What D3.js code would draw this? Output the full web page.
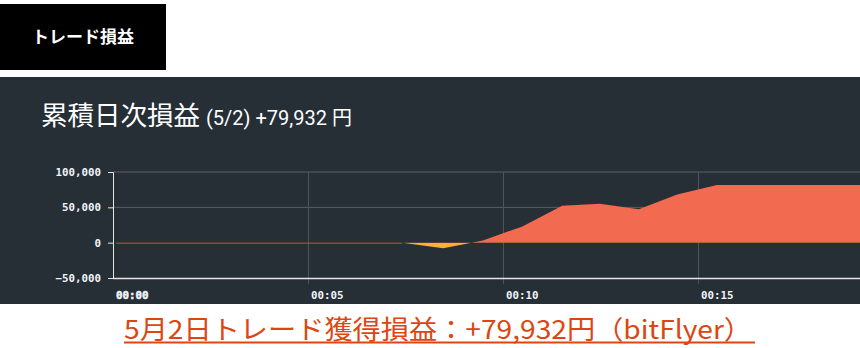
<!DOCTYPE html>
<html>
<head>
<meta charset="utf-8">
<script src="https://cdn.jsdelivr.net/npm/d3@7"></script>
<style>
body { margin: 0; background: #fff; }
svg { display: block; }
</style>
</head>
<body>
<script>
// cumulative P/L through the day, seconds since 00:00
var times = [5, 445, 508, 569, 629, 691, 749, 809, 868, 929, 1200];
var values = [0, 0, -7900, 3000, 22700, 52400, 55200, 47300, 68000, 81700, 81700];
var yTicks = [-50000, 0, 50000, 100000];
var xTicks = [0, 300, 600, 900];
var xTickLabels = ["00:00", "00:05", "00:10", "00:15"];

var data = times.map(function(t, i){ return {t: t, v: values[i]}; });

var W = 860, H = 348;
var svg = d3.select("body").append("svg").attr("width", W).attr("height", H);

// header tab
svg.append("rect").attr("x", 0).attr("y", 4).attr("width", 166).attr("height", 66).attr("fill", "#000");
svg.append("text").attr("x", 83).attr("y", 43).attr("text-anchor", "middle")
  .attr("font-family", "Noto Sans CJK JP").attr("font-weight", "bold").attr("font-size", 17)
  .attr("fill", "#fff").text("トレード損益");

// dark panel
svg.append("rect").attr("x", 0).attr("y", 77).attr("width", W).attr("height", 227).attr("fill", "#262e36");

var title = svg.append("text").attr("x", 41).attr("y", 125).attr("fill", "#fff");
title.append("tspan").attr("font-family", "Noto Sans CJK JP").attr("font-size", 26.5).text("累積日次損益");
title.append("tspan").attr("font-family", "Roboto").attr("font-size", 20).attr("dx", 6).text("(5/2) +79,932 ");
title.append("tspan").attr("font-family", "Noto Sans CJK JP").attr("font-size", 20).text("円");

var x = d3.scaleLinear().domain([0, 1200]).range([113, 113 + 195 * 4]);
var y = d3.scaleLinear().domain([-50000, 100000]).range([278, 172]);

// grid
svg.selectAll("line.hgrid").data([50000, 100000]).enter().append("line")
  .attr("class", "hgrid")
  .attr("x1", x(0)).attr("x2", W)
  .attr("y1", function(d){ return y(d); }).attr("y2", function(d){ return y(d); })
  .attr("stroke", "#5a6168").attr("stroke-width", 1);
svg.selectAll("line.vgrid").data(xTicks.slice(1)).enter().append("line")
  .attr("class", "vgrid")
  .attr("x1", function(d){ return Math.round(x(d)) + 0.5; }).attr("x2", function(d){ return Math.round(x(d)) + 0.5; })
  .attr("y1", y(100000)).attr("y2", y(-50000) + 6)
  .attr("stroke", "#4d545b").attr("stroke-width", 1);

// areas split at zero
var defs = svg.append("defs");
defs.append("clipPath").attr("id", "pos").append("rect")
  .attr("x", 0).attr("y", 0).attr("width", W).attr("height", y(0));
defs.append("clipPath").attr("id", "neg").append("rect")
  .attr("x", 0).attr("y", y(0)).attr("width", W).attr("height", H - y(0));

var area = d3.area()
  .x(function(d){ return x(d.t); })
  .y0(y(0))
  .y1(function(d){ return y(d.v); });

svg.append("path").datum(data).attr("d", area).attr("fill", "#f26a50").attr("clip-path", "url(#pos)");
svg.append("path").datum(data).attr("d", area).attr("fill", "#f8b133").attr("clip-path", "url(#neg)");
svg.append("line")
  .attr("x1", x(times[0])).attr("x2", x(times[1]))
  .attr("y1", y(0) + 0.5).attr("y2", y(0) + 0.5)
  .attr("stroke", "#c5533f").attr("stroke-width", 1);

// axes
var yAxis = svg.append("g").attr("transform", "translate(113,0)")
  .call(d3.axisLeft(y).tickValues(yTicks).tickFormat(d3.format(",")).tickSize(5).tickPadding(7));
yAxis.select(".domain").attr("stroke", "#e6e6e6");
yAxis.selectAll(".tick line").attr("stroke", "#e6e6e6");
yAxis.selectAll("text").attr("fill", "#f0f4f8")
  .attr("font-family", "DejaVu Sans Mono").attr("font-weight", "bold").attr("font-size", 10.8);

svg.append("line").attr("x1", 113).attr("x2", W).attr("y1", y(-50000) + 0.5).attr("y2", y(-50000) + 0.5)
  .attr("stroke", "#e6e6e6").attr("stroke-width", 1.5);

svg.selectAll("text.xlab").data(xTicks).enter().append("text")
  .attr("class", "xlab")
  .attr("x", function(d){ return x(d) + 3; })
  .attr("y", 299)
  .attr("fill", "#f0f4f8")
  .attr("stroke", function(d, i){ return i === 0 ? "#f0f4f8" : "none"; })
  .attr("stroke-width", 0.5)
  .attr("font-family", "DejaVu Sans Mono").attr("font-weight", "bold").attr("font-size", 10.8)
  .text(function(d, i){ return xTickLabels[i]; });

// caption link
svg.append("text").attr("x", 124).attr("y", 339)
  .attr("font-family", "Noto Sans CJK JP").attr("font-size", 26).attr("fill", "#dd4611")
  .attr("textLength", 628).attr("lengthAdjust", "spacingAndGlyphs")
  .text("5月2日トレード獲得損益：+79,932円（bitFlyer）");
svg.append("line").attr("x1", 124).attr("x2", 755).attr("y1", 342.5).attr("y2", 342.5)
  .attr("stroke", "#dd4611").attr("stroke-width", 2);
</script>
</body>
</html>
